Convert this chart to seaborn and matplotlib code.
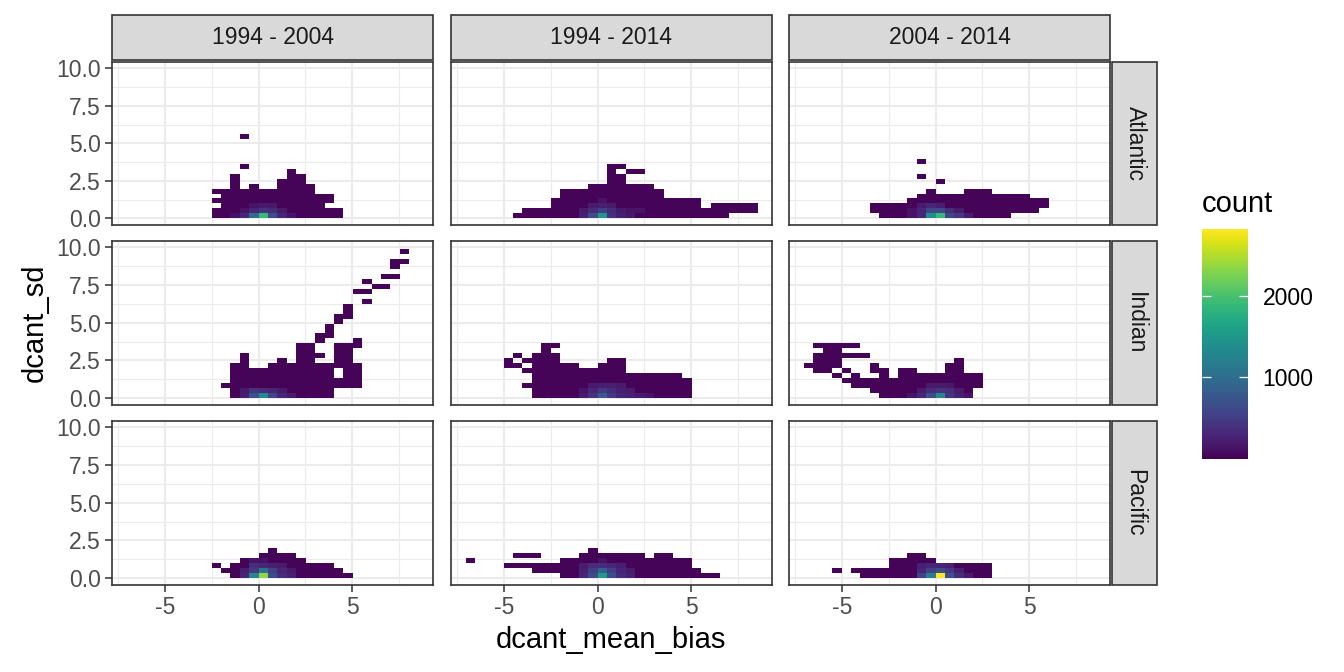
import numpy as np
import pandas as pd
import matplotlib
matplotlib.use("Agg")
import matplotlib.pyplot as plt
from matplotlib.patches import Rectangle
import seaborn as sns

plt.rcParams["font.family"] = ["Liberation Sans", "DejaVu Sans"]

# facets
periods = ["1994 - 2004", "1994 - 2014", "2004 - 2014"]
basins = ["Atlantic", "Indian", "Pacific"]

# bin sizes (x bins start at 0, y bins start at 0)
XW = 0.503
YW = 0.33
low_count = 30      # the dark purple tiles

# occupied tiles as (y bin, first x bin, last x bin); x bin i covers [i*XW, (i+1)*XW]
atl_9404_runs = [(0, -5, 8), (1, -5, 8), (2, -4, 6), (3, -5, 7), (4, -4, 7), (5, -5, 5),
                 (6, -3, -3), (6, -1, -1), (6, 2, 5), (7, -3, -3), (7, 2, 4), (8, -3, -3),
                 (8, 3, 4), (9, 3, 3), (10, -2, -2), (16, -2, -2)]
atl_9414_runs = [(0, -9, 13), (1, -8, 16), (2, -5, 10), (2, 12, 16), (3, -5, 10), (4, -4, 6),
                 (5, -4, 6), (6, -1, 5), (7, 1, 2), (8, 1, 2), (9, 1, 1), (9, 3, 4), (10, 1, 2)]
atl_0414_runs = [(0, -6, 7), (1, -7, 10), (2, -7, 11), (3, -3, 11), (4, -2, 9), (5, -1, -1),
                 (5, 3, 5), (7, 0, 0), (8, -2, -2), (11, -2, -2)]
ind_9404_runs = [(0, -3, 7), (1, -3, 7), (2, -4, 10), (3, -3, 10), (4, -3, 7), (4, 9, 10),
                 (5, -3, 7), (5, 9, 10), (6, -3, -2), (6, 1, 10), (7, -2, -2), (7, 2, 2),
                 (7, 4, 5), (7, 8, 9), (8, -2, -2), (8, 4, 6), (8, 8, 9), (9, 4, 5), (9, 8, 9),
                 (10, 4, 5), (10, 8, 10), (11, 6, 6), (11, 10, 10), (12, 6, 7), (13, 7, 7),
                 (14, 7, 7), (15, 8, 8), (16, 8, 9), (17, 9, 9), (18, 9, 9), (19, 11, 11),
                 (21, 10, 11), (22, 12, 13), (23, 11, 11), (24, 13, 14), (26, 14, 14),
                 (27, 14, 15), (29, 15, 15)]
ind_9414_runs = [(0, -7, 9), (1, -7, 9), (2, -8, 9), (3, -7, 9), (4, -7, 8), (5, -8, 2),
                 (6, -10, -9), (6, -7, -3), (6, 0, 2), (7, -10, -10), (7, -8, -5), (7, 1, 2),
                 (8, -9, -9), (8, -7, -5), (9, -6, -6), (10, -6, -5)]
ind_0414_runs = [(0, -6, 3), (1, -7, 3), (2, -9, 4), (3, -10, 4), (4, -11, -11), (4, -9, -9),
                 (4, -6, -6), (4, -4, 4), (5, -13, -12), (5, -10, -10), (5, -7, -6),
                 (5, -4, -3), (5, 1, 2), (6, -14, -11), (6, -7, -7), (6, 1, 2),
                 (7, -13, -11), (7, 2, 2), (8, -13, -8), (9, -12, -11), (10, -13, -9)]
pac_9404_runs = [(0, -3, 9), (1, -4, 8), (2, -5, -5), (2, -3, 7), (3, -2, 4), (4, 0, 3), (5, 1, 1)]
pac_9414_runs = [(0, -4, 12), (1, -7, 10), (2, -10, 9), (3, -14, -14), (3, -4, 9),
                 (4, -9, -7), (4, -2, 4), (4, 6, 7), (5, -1, -1)]
pac_0414_runs = [(0, -8, 5), (1, -11, -11), (1, -9, 5), (2, -5, 5), (3, -5, -1), (4, -3, -2)]

# brighter tiles near the origin as (x bin, y bin, count)
atl_9404_hot = [(0, 0, 1900), (-1, 0, 1000), (1, 0, 650), (-2, 0, 300), (2, 0, 300), (3, 0, 150),
                (-3, 0, 120), (-1, 1, 300), (0, 1, 400), (1, 1, 350), (2, 1, 200), (-2, 1, 150),
                (-1, 2, 150), (0, 2, 200), (1, 2, 180)]
atl_9414_hot = [(0, 0, 1500), (-1, 0, 650), (1, 0, 400), (-2, 0, 250), (2, 0, 250), (3, 0, 180),
                (0, 1, 500), (-1, 1, 350), (1, 1, 350), (2, 1, 200), (-2, 1, 200), (3, 1, 150),
                (4, 1, 150), (0, 2, 250), (-1, 2, 200), (1, 2, 200), (0, 3, 150)]
atl_0414_hot = [(0, 0, 1900), (-1, 0, 1400), (1, 0, 600), (2, 0, 450), (-2, 0, 300), (3, 0, 200),
                (-3, 0, 150), (-1, 1, 600), (0, 1, 600), (1, 1, 350), (-2, 1, 300), (2, 1, 200),
                (-3, 1, 150), (-1, 2, 300), (0, 2, 250), (-2, 2, 200)]
ind_9404_hot = [(0, 0, 1350), (-1, 0, 700), (1, 0, 600), (-2, 0, 250), (2, 0, 300), (3, 0, 200),
                (-1, 1, 400), (0, 1, 350), (1, 1, 300), (-2, 1, 200), (2, 1, 200)]
ind_9414_hot = [(0, 0, 800), (-1, 0, 400), (1, 0, 450), (2, 0, 300), (-2, 0, 200), (3, 0, 250),
                (4, 0, 200), (5, 0, 150), (0, 1, 450), (-1, 1, 300), (1, 1, 350), (2, 1, 250),
                (3, 1, 200), (-2, 1, 150), (-1, 2, 200), (0, 2, 250), (1, 2, 250), (2, 2, 200)]
ind_0414_hot = [(0, 0, 1300), (-1, 0, 650), (1, 0, 400), (-2, 0, 300), (2, 0, 250), (-3, 0, 150),
                (3, 0, 150), (0, 1, 400), (-1, 1, 350), (1, 1, 350), (-2, 1, 200), (2, 1, 200),
                (0, 2, 200), (-1, 2, 200), (1, 2, 180)]
pac_9404_hot = [(0, 0, 2350), (-1, 0, 1300), (1, 0, 650), (-2, 0, 300), (2, 0, 350), (3, 0, 250),
                (-1, 1, 450), (0, 1, 1050), (1, 1, 550), (-2, 1, 250), (2, 1, 300), (3, 1, 200),
                (-1, 2, 350), (0, 2, 300), (1, 2, 250), (2, 2, 200), (0, 3, 150), (-1, 3, 150)]
pac_9414_hot = [(0, 0, 1550), (-1, 0, 650), (1, 0, 650), (-2, 0, 300), (2, 0, 350), (3, 0, 250),
                (0, 1, 850), (-1, 1, 500), (1, 1, 500), (2, 1, 300), (-2, 1, 250), (3, 1, 200),
                (-1, 2, 350), (0, 2, 350), (1, 2, 300), (2, 2, 250), (-2, 2, 200), (0, 3, 150)]
pac_0414_hot = [(0, 0, 2815), (-1, 0, 1200), (1, 0, 700), (-2, 0, 550), (2, 0, 350), (3, 0, 200),
                (0, 1, 650), (-1, 1, 550), (1, 1, 450), (-2, 1, 300), (2, 1, 250),
                (0, 2, 300), (-1, 2, 300), (1, 2, 250), (-2, 2, 250)]

count_min, count_max = 1, 2815
cbar_ticks = [1000, 2000]
x_ticks, x_labels = [-5, 0, 5], ["-5", "0", "5"]
y_ticks, y_labels = [0, 2.5, 5, 7.5, 10], ["0.0", "2.5", "5.0", "7.5", "10.0"]

panels = {
    ("Atlantic", "1994 - 2004"): (atl_9404_runs, atl_9404_hot),
    ("Atlantic", "1994 - 2014"): (atl_9414_runs, atl_9414_hot),
    ("Atlantic", "2004 - 2014"): (atl_0414_runs, atl_0414_hot),
    ("Indian", "1994 - 2004"): (ind_9404_runs, ind_9404_hot),
    ("Indian", "1994 - 2014"): (ind_9414_runs, ind_9414_hot),
    ("Indian", "2004 - 2014"): (ind_0414_runs, ind_0414_hot),
    ("Pacific", "1994 - 2004"): (pac_9404_runs, pac_9404_hot),
    ("Pacific", "1994 - 2014"): (pac_9414_runs, pac_9414_hot),
    ("Pacific", "2004 - 2014"): (pac_0414_runs, pac_0414_hot),
}

rows = []
for (basin, period), (runs, hot) in panels.items():
    cells = {}
    for j, i0, i1 in runs:
        for i in range(i0, i1 + 1):
            cells[(i, j)] = low_count
    for i, j, n in hot:
        cells[(i, j)] = n
    for (i, j), n in cells.items():
        rows.append({"basin": basin, "period": period,
                     "dcant_mean_bias": (i + 0.5) * XW,
                     "dcant_sd": (j + 0.5) * YW, "count": n})
df = pd.DataFrame(rows)

x_edges = np.arange(-14, 18) * XW
y_edges = np.arange(0, 31) * YW

# layout in pixels of the 1344x672 canvas
W, H = 1344, 672
col_px = [(112, 433), (451, 772), (789, 1110)]
row_px = [(62, 225), (241, 405), (421, 585)]
dark = "#333333"

fig = plt.figure(figsize=(13.44, 6.72), dpi=100)

mesh = None
for r, basin in enumerate(basins):
    for c, period in enumerate(periods):
        x0, x1 = col_px[c]
        y0, y1 = row_px[r]
        ax = fig.add_axes([x0 / W, 1 - y1 / H, (x1 - x0) / W, (y1 - y0) / H])
        sub = df[(df["basin"] == basin) & (df["period"] == period)]
        sns.histplot(data=sub, x="dcant_mean_bias", y="dcant_sd", weights="count",
                     bins=[x_edges, y_edges], cmap="viridis",
                     vmin=count_min, vmax=count_max, ax=ax)
        mesh = ax.collections[-1]
        ax.set_xlim(-7.84, 9.32)
        ax.set_ylim(-0.45, 10.42)
        ax.set_xlabel("")
        ax.set_ylabel("")
        ax.set_facecolor("white")
        ax.set_axisbelow(True)
        ax.set_xticks(x_ticks)
        ax.set_xticklabels(x_labels)
        ax.set_yticks(y_ticks)
        ax.set_yticklabels(y_labels)
        ax.set_xticks([-7.5, -2.5, 2.5, 7.5], minor=True)
        ax.set_yticks([1.25, 3.75, 6.25, 8.75], minor=True)
        ax.grid(which="major", color="#EBEBEB", lw=1.5)
        ax.grid(which="minor", color="#EBEBEB", lw=0.8)
        ax.tick_params(which="minor", length=0)
        ax.tick_params(which="major", length=5, width=1.1, color=dark,
                       labelsize=16.5, labelcolor="#4D4D4D", pad=3)
        ax.tick_params(left=(c == 0), labelleft=(c == 0),
                       bottom=(r == 2), labelbottom=(r == 2))
        for s in ax.spines.values():
            s.set_color(dark)
            s.set_linewidth(1.2)

        # top strips
        if r == 0:
            fig.add_artist(Rectangle((x0 / W, 1 - 60 / H), (x1 - x0) / W, 45 / H,
                                     transform=fig.transFigure, facecolor="#D9D9D9",
                                     edgecolor=dark, lw=1.2))
            fig.text((x0 + x1) / 2 / W, 1 - 38 / H, period, ha="center", va="center",
                     fontsize=16.5, color="#1A1A1A")
    # right strips
    y0, y1 = row_px[r]
    fig.add_artist(Rectangle((1112 / W, 1 - y1 / H), 45 / W, (y1 - y0) / H,
                             transform=fig.transFigure, facecolor="#D9D9D9",
                             edgecolor=dark, lw=1.2))
    fig.text(1135 / W, 1 - (y0 + y1) / 2 / H, basin, ha="center", va="center",
             rotation=-90, fontsize=16.5, color="#1A1A1A")

fig.text(611 / W, 1 - 640 / H, "dcant_mean_bias", ha="center", va="center", fontsize=21)
fig.text(35 / W, 1 - 323 / H, "dcant_sd", ha="center", va="center", rotation=90, fontsize=21)

# colour bar
cax = fig.add_axes([1202 / W, 1 - 459 / H, 46 / W, 230 / H])
cb = fig.colorbar(mesh, cax=cax)
cb.outline.set_visible(False)
cb.set_ticks(cbar_ticks)
cb.set_ticklabels([str(t) for t in cbar_ticks])
cax.tick_params(direction="in", length=6.5, width=0.9, color="white", left=True, right=True,
                labelsize=16.5, labelcolor="black", pad=10.5)
fig.text(1202 / W, 1 - 212 / H, "count", ha="left", va="baseline", fontsize=21)

fig.savefig("out.png", dpi=100)
